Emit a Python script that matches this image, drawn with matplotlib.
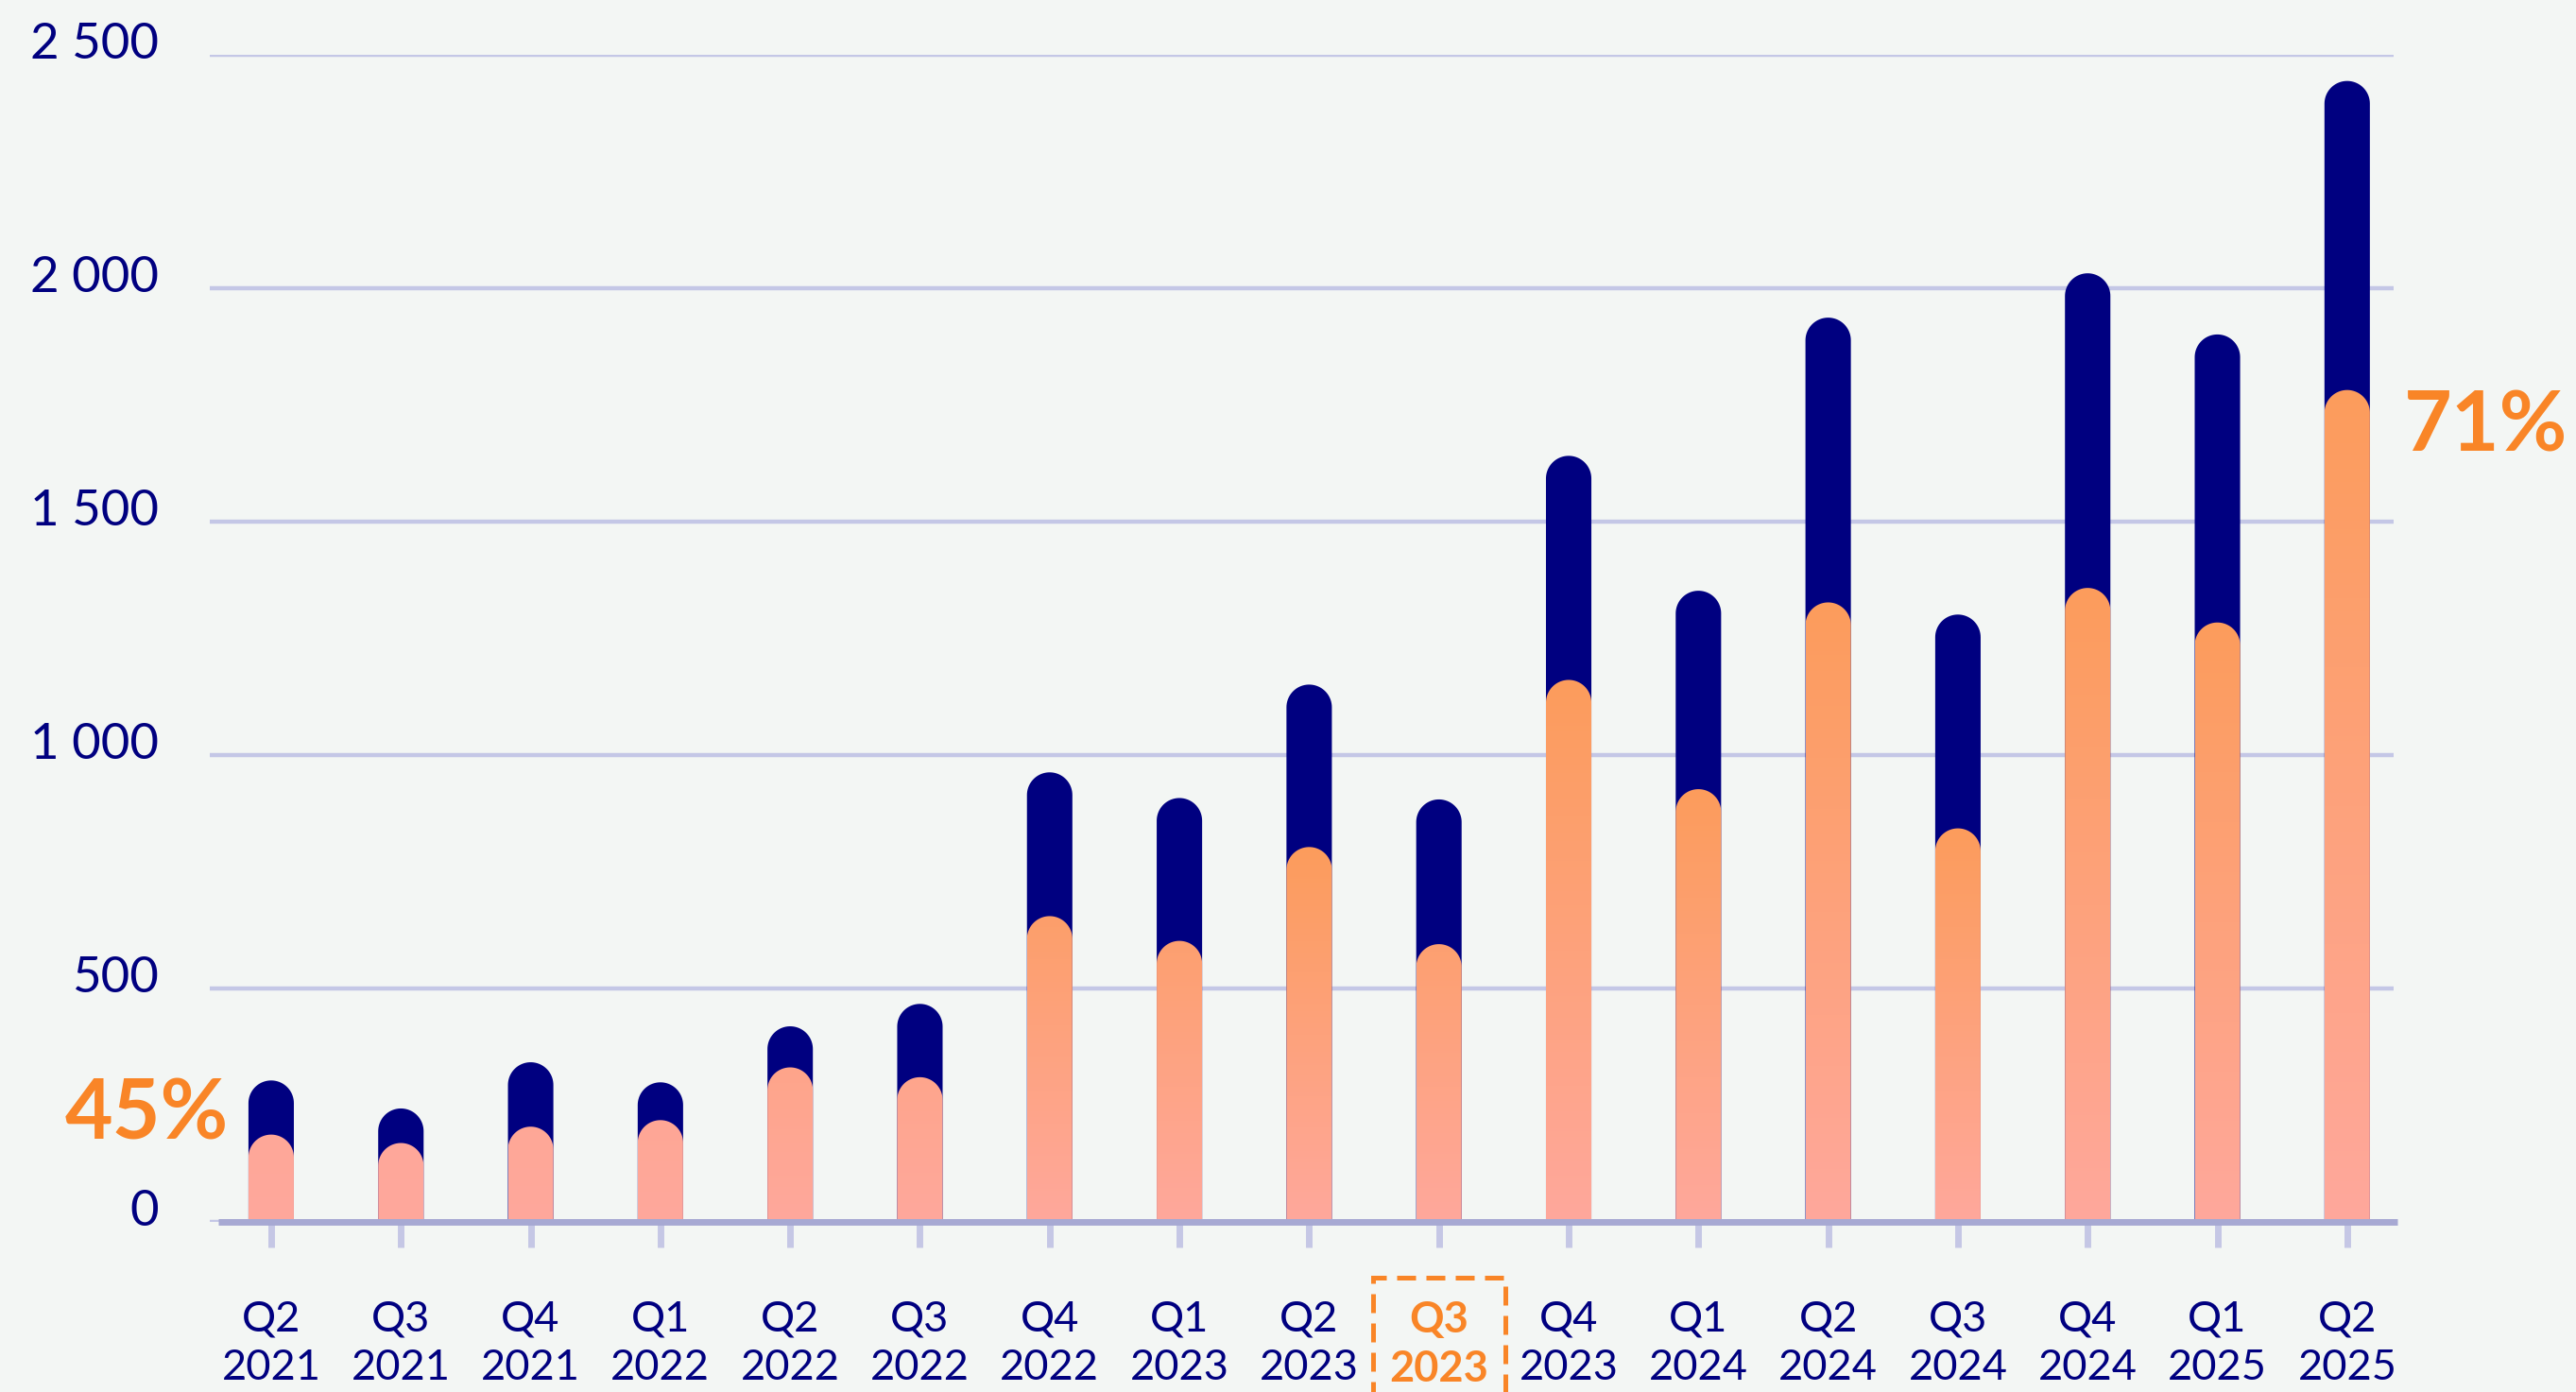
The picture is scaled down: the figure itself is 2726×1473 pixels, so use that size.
import numpy as np
import matplotlib
matplotlib.use("Agg")
import matplotlib.pyplot as plt
from matplotlib.path import Path
from matplotlib.patches import PathPatch, Rectangle
from matplotlib import transforms as mtransforms
from matplotlib.colors import to_rgb

# data
quarters = ["Q2", "Q3", "Q4", "Q1", "Q2", "Q3", "Q4", "Q1", "Q2", "Q3",
            "Q4", "Q1", "Q2", "Q3", "Q4", "Q1", "Q2"]
years = ["2021", "2021", "2021", "2022", "2022", "2022", "2022", "2023", "2023",
         "2023", "2023", "2024", "2024", "2024", "2024", "2025", "2025"]
total = [303, 243, 342, 299, 419, 467, 963, 908, 1151, 905,
         1641, 1352, 1937, 1301, 2032, 1901, 2444]
part = [187, 169, 204, 218, 331, 310, 655, 602, 803, 595,
        1161, 927, 1327, 843, 1358, 1284, 1782]
highlight = 9
y_ticks = [0, 500, 1000, 1500, 2000, 2500]
y_labels = ["0", "500", "1 000", "1 500", "2 000", "2 500"]
first_pct = "45%"
last_pct = "71%"

NAVY = "#000080"
PINK = "#FFA89C"
ORANGE_GRAD = "#FC9C5C"
ORANGE_TXT = "#F98527"
GRID = "#C4C7E6"
AXIS = "#A7A9D3"
BG = "#F3F6F4"

plt.rcParams["font.family"] = ["Lato", "DejaVu Sans"]

W, H, DPI = 2726, 1473, 100
fig = plt.figure(figsize=(W / DPI, H / DPI), dpi=DPI, facecolor=BG)
ax_box = [222 / W, 1 - 1293 / H, (2533 - 222) / W, (1293 - 58) / H]
ax = fig.add_axes(ax_box, facecolor=BG)

x = np.arange(len(total))
ax.set_xlim(-0.473, 16.358)
ax.set_ylim(0, 2500)

bar_w = 0.35
# radius of the rounded top, in data units of y (half the bar width in pixels)
half_px = bar_w / 2 * (ax_box[2] * W) / (16.358 + 0.473)
ry = half_px * 2500 / (ax_box[3] * H)


def rounded_bar(xc, h):
    rx = bar_w / 2
    th = np.linspace(np.pi, 0, 40)
    arc = np.column_stack([xc + rx * np.cos(th), h - ry + ry * np.sin(th)])
    verts = np.vstack([[xc - rx, 0], arc, [xc + rx, 0], [xc - rx, 0]])
    codes = [Path.MOVETO] + [Path.LINETO] * (len(verts) - 2) + [Path.CLOSEPOLY]
    return Path(verts, codes)


pink_rgb = np.array(to_rgb(PINK))
orange_rgb = np.array(to_rgb(ORANGE_GRAD))

for xi, t, p in zip(x, total, part):
    ax.add_patch(PathPatch(rounded_bar(xi, t), facecolor=NAVY, edgecolor="none", zorder=2))

    clip = PathPatch(rounded_bar(xi, p), facecolor="none", edgecolor="none",
                     transform=ax.transData)
    ax.add_patch(clip)
    s = np.clip((p - 150) / 650, 0, 1)
    f = np.linspace(0, 1, 256)[:, None] * s
    grad = pink_rgb[None, :] * (1 - f) + orange_rgb[None, :] * f
    im = ax.imshow(grad[:, None, :], extent=(xi - bar_w / 2, xi + bar_w / 2, 0, p),
                   origin="lower", aspect="auto", interpolation="bilinear", zorder=3)
    im.set_clip_path(clip)

ax.set_xlim(-0.473, 16.358)
ax.set_ylim(0, 2500)

# grid + baseline
ax.set_yticks(y_ticks)
ax.set_yticklabels(y_labels)
ax.yaxis.grid(True, color=GRID, linewidth=3.2)
ax.set_axisbelow(True)
ax.plot([-0.41, 16.39], [0, 0], color=AXIS, linewidth=5, solid_capstyle="butt",
        clip_on=False, zorder=5)

for sp in ax.spines.values():
    sp.set_visible(False)

ax.tick_params(axis="y", length=0, pad=39, labelsize=38, labelcolor=NAVY)
shift = mtransforms.ScaledTranslation(0, 0.15, fig.dpi_scale_trans)
for lab in ax.get_yticklabels():
    lab.set_transform(lab.get_transform() + shift)

ax.set_xticks(x)
ax.set_xticklabels([f"{q}\n{y}" for q, y in zip(quarters, years)], linespacing=1.3)
ax.tick_params(axis="x", length=19.5, width=5, color="#C5C7E5", pad=40,
               labelsize=32.5, labelcolor=NAVY)
hl = ax.get_xticklabels()[highlight]
hl.set_color(ORANGE_TXT)
hl.set_fontweight("bold")

# dashed box round the highlighted quarter
trans = mtransforms.blended_transform_factory(ax.transData, fig.transFigure)
ax.add_patch(Rectangle((highlight - 0.51, -0.02), 1.02, 0.02 + 1 - 1352 / H,
                       transform=trans, fill=False, edgecolor=ORANGE_TXT,
                       linewidth=3.6, linestyle=(0, (4, 2.2)), clip_on=False))

ax.text(-0.96, 229, first_pct, color=ORANGE_TXT, fontsize=63, fontweight="bold",
        ha="center", va="center", clip_on=False)
ax.text(17.07, 1703, last_pct, color=ORANGE_TXT, fontsize=63, fontweight="bold",
        ha="center", va="center", clip_on=False)

fig.savefig("out.png", dpi=DPI, facecolor=BG)
